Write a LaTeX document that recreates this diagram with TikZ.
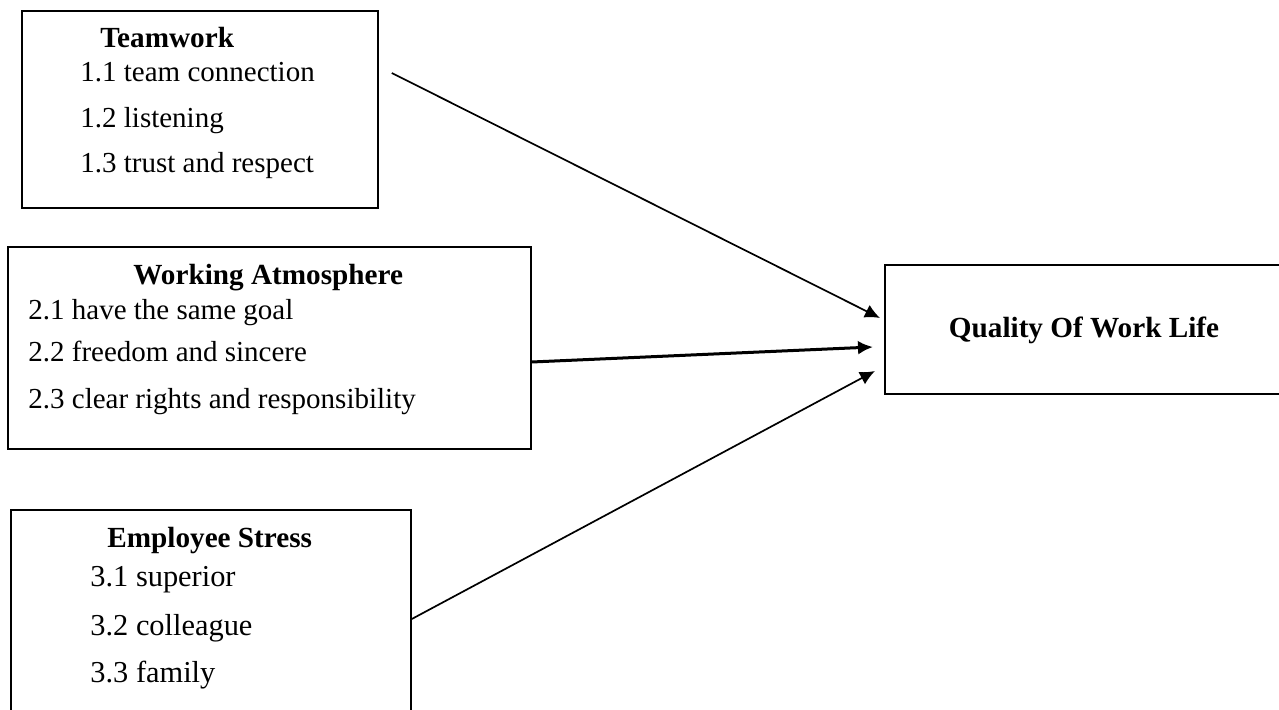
\documentclass[tikz,border=0pt]{standalone}
\usepackage{fontspec}
\setmainfont{Liberation Serif}
\usetikzlibrary{arrows.meta,positioning}

\begin{document}
\begin{tikzpicture}[x=0.5pt,y=-0.5pt,>={Latex[length=7.5pt,width=7pt]},
  box/.style={draw,line width=0.9pt,anchor=north west,inner sep=0pt},
  head/.style={anchor=base west,inner sep=0pt,font=\fontsize{14.6}{17}\selectfont\bfseries},
  item/.style={anchor=base west,inner sep=0pt,font=\fontsize{14.5}{17}\selectfont},
  link/.style={->,line width=0.85pt}]
  \useasboundingbox (0,0) rectangle (1279,710);
  % boxes
  \node[box,minimum width=178pt,minimum height=98.5pt] (team) at (21,10)  {};
  \node[box,minimum width=261.5pt,minimum height=101pt] (atmo) at (7,246) {};
  \node[box,minimum width=200pt,minimum height=110pt]  (stress) at (10,509) {};
  \node[box,minimum width=210pt,minimum height=64.5pt] (qwl) at (884,264) {};
  % teamwork
  \node[head] (teamhead) at (100,48) {Teamwork};
  \node[item] (t11) at (80,82)  {1.1 team connection};
  \node[item] (t12) at (80,128) {1.2 listening};
  \node[item] (t13) at (80,173) {1.3 trust and respect};
  % working atmosphere
  \node[head] (atmohead) at (133,285) {Working Atmosphere};
  \node[item] (a21) at (28,320) {2.1 have the same goal};
  \node[item] (a22) at (28,362) {2.2 freedom and sincere};
  \node[item] (a23) at (28,409) {2.3 clear rights and responsibility};
  % employee stress
  \node[head] (stresshead) at (107,547) {Employee Stress};
  \node[item,font=\fontsize{15.2}{18}\selectfont] (s31) at (90,587) {3.1 superior};
  \node[item,font=\fontsize{15.2}{18}\selectfont] (s32) at (90,635) {3.2 colleague};
  \node[item,font=\fontsize{15.2}{18}\selectfont] (s33) at (90,682) {3.3 family};
  % quality of work life
  \node[head,anchor=base] (qwlhead) at (1084,338) {Quality Of Work Life};
  % links
  \draw[link] ([shift={(13,63)}]team.north east) -- ([shift={(-4,54)}]qwl.north west);
  \draw[link,line width=1.5pt] ([shift={(0,116)}]atmo.north east) -- ([shift={(-11,83)}]qwl.north west);
  \draw[link] ([shift={(0,110)}]stress.north east) -- ([shift={(-9,107)}]qwl.north west);
\end{tikzpicture}
\end{document}
